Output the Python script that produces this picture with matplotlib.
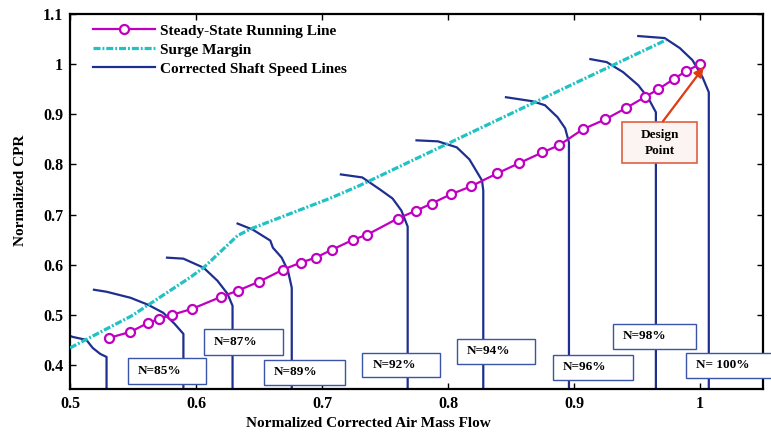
import matplotlib
matplotlib.use("Agg")
import matplotlib.pyplot as plt
from matplotlib.patches import Rectangle
from matplotlib.ticker import FuncFormatter

# steady-state running line (normalized mass flow, normalized CPR)
run_x = [0.531, 0.548, 0.562, 0.571, 0.581, 0.597, 0.620, 0.633, 0.650, 0.669,
         0.683, 0.695, 0.708, 0.725, 0.736, 0.760, 0.775, 0.787, 0.802, 0.818,
         0.839, 0.856, 0.875, 0.888, 0.907, 0.925, 0.941, 0.956, 0.967, 0.979,
         0.989, 1.000]
run_y = [0.454, 0.466, 0.484, 0.492, 0.500, 0.512, 0.536, 0.548, 0.566, 0.590,
         0.604, 0.614, 0.630, 0.650, 0.660, 0.692, 0.708, 0.722, 0.740, 0.756,
         0.782, 0.802, 0.824, 0.838, 0.870, 0.890, 0.912, 0.934, 0.950, 0.970,
         0.986, 1.000]

# surge margin
surge_x = [0.500, 0.549, 0.595, 0.606, 0.633, 0.644, 0.706, 0.730, 0.889, 0.973]
surge_y = [0.434, 0.498, 0.574, 0.594, 0.658, 0.672, 0.732, 0.758, 0.948, 1.048]

# corrected shaft speed lines
speed1_x = [0.500, 0.502, 0.513, 0.518, 0.524, 0.529, 0.529]
speed1_y = [0.458, 0.456, 0.450, 0.434, 0.422, 0.416, 0.300]
speed2_x = [0.519, 0.529, 0.548, 0.562, 0.574, 0.583, 0.590, 0.590]
speed2_y = [0.550, 0.546, 0.534, 0.520, 0.504, 0.482, 0.462, 0.300]
speed3_x = [0.577, 0.590, 0.606, 0.617, 0.625, 0.629, 0.629]
speed3_y = [0.614, 0.612, 0.594, 0.568, 0.542, 0.518, 0.300]
speed4_x = [0.633, 0.645, 0.659, 0.661, 0.668, 0.673, 0.676, 0.676]
speed4_y = [0.682, 0.670, 0.648, 0.634, 0.614, 0.588, 0.554, 0.300]
speed5_x = [0.715, 0.732, 0.746, 0.756, 0.763, 0.768, 0.768]
speed5_y = [0.780, 0.774, 0.750, 0.732, 0.708, 0.676, 0.300]
speed6_x = [0.775, 0.792, 0.807, 0.817, 0.827, 0.828, 0.828]
speed6_y = [0.848, 0.846, 0.834, 0.810, 0.768, 0.748, 0.300]
speed7_x = [0.846, 0.867, 0.877, 0.887, 0.893, 0.896, 0.896]
speed7_y = [0.934, 0.926, 0.918, 0.894, 0.872, 0.844, 0.300]
speed8_x = [0.913, 0.926, 0.939, 0.951, 0.959, 0.965, 0.965]
speed8_y = [1.010, 1.004, 0.984, 0.958, 0.932, 0.904, 0.300]
speed9_x = [0.951, 0.972, 0.984, 0.994, 1.002, 1.007, 1.007]
speed9_y = [1.056, 1.052, 1.032, 1.008, 0.974, 0.944, 0.300]

speed_labels = ["N=85%", "N=87%", "N=89%", "N=92%", "N=94%", "N=96%", "N=98%", "N= 100%"]
# label boxes: left, bottom, width, height (data units)
label_boxes = [(0.546, 0.362, 0.062, 0.052), (0.606, 0.420, 0.063, 0.052),
               (0.654, 0.360, 0.064, 0.050), (0.732, 0.376, 0.062, 0.048),
               (0.807, 0.402, 0.062, 0.050), (0.883, 0.370, 0.064, 0.050),
               (0.931, 0.432, 0.066, 0.050), (0.989, 0.374, 0.068, 0.050)]

NAVY = "#1f2f8f"
MAGENTA = "#c000c0"
CYAN = "#22c1c3"

plt.rcParams["font.family"] = ["Liberation Serif", "DejaVu Serif"]
plt.rcParams["font.weight"] = "bold"

fig = plt.figure(figsize=(7.71, 4.32), dpi=100)
ax = fig.add_axes([0.0908, 0.0995, 0.8988, 0.8681])

ax.plot(run_x, run_y, color=MAGENTA, lw=1.6, marker="o", ms=6.5,
        mfc="white", mec=MAGENTA, mew=1.6, zorder=4,
        label="Steady-State Running Line")
ax.plot(surge_x, surge_y, color=CYAN, lw=2.3, dashes=[2.2, 0.6, 0.6, 0.6],
        zorder=3, label="Surge Margin")
speeds = [(speed1_x, speed1_y), (speed2_x, speed2_y), (speed3_x, speed3_y),
          (speed4_x, speed4_y), (speed5_x, speed5_y), (speed6_x, speed6_y),
          (speed7_x, speed7_y), (speed8_x, speed8_y), (speed9_x, speed9_y)]
for i, (sx, sy) in enumerate(speeds):
    ax.plot(sx, sy, color=NAVY, lw=1.6, zorder=2,
            label="Corrected Shaft Speed Lines" if i == 0 else None)

for lab, (bx, by, bw, bh) in zip(speed_labels, label_boxes):
    ax.add_patch(Rectangle((bx, by), bw, bh, facecolor="white", edgecolor="#3a55a8",
                           lw=1.0, zorder=6, clip_on=False))
    ax.text(bx + 0.008, by + bh / 2, lab, fontsize=9.5, fontweight="bold",
            ha="left", va="center", zorder=7, clip_on=False)

# design point
ax.add_patch(Rectangle((0.938, 0.802), 0.060, 0.082, facecolor="#fbf4f2",
                       edgecolor="#e0603e", lw=1.2, zorder=6))
ax.text(0.968, 0.843, "Design\nPoint", fontsize=9.5, fontweight="bold",
        ha="center", va="center", linespacing=1.5, zorder=7)
ax.annotate("", xy=(run_x[-1] + 0.003, run_y[-1] - 0.006), xytext=(0.9706, 0.886),
            arrowprops=dict(arrowstyle="-|>", color="#e03a10", lw=1.6,
                            mutation_scale=14, shrinkA=0, shrinkB=0), zorder=8)

ax.set_xlim(0.5, 1.05)
ax.set_ylim(0.352, 1.1)
ax.set_xticks([0.5, 0.6, 0.7, 0.8, 0.9, 1.0])
ax.set_yticks([0.4, 0.5, 0.6, 0.7, 0.8, 0.9, 1.0, 1.1])
fmt = FuncFormatter(lambda v, p: "{:g}".format(round(v, 2)))
ax.xaxis.set_major_formatter(fmt)
ax.yaxis.set_major_formatter(fmt)
ax.tick_params(direction="in", top=True, right=True, length=4, width=1,
               labelsize=11.5, pad=5)
for sp in ax.spines.values():
    sp.set_linewidth(1.6)

ax.set_xlabel("Normalized Corrected Air Mass Flow", fontsize=11, fontweight="bold", labelpad=1)
ax.set_ylabel("Normalized CPR", fontsize=11, fontweight="bold")
ax.xaxis.set_label_coords(0.43, -0.075)
ax.yaxis.set_label_coords(-0.062, 0.53)

ax.legend(loc="upper left", bbox_to_anchor=(0.025, 0.99), frameon=False,
          numpoints=1, handlelength=4.0, handletextpad=0.35, labelspacing=0.35,
          borderaxespad=0, prop=dict(size=11, weight="bold"))

fig.savefig("out.png", dpi=100)
